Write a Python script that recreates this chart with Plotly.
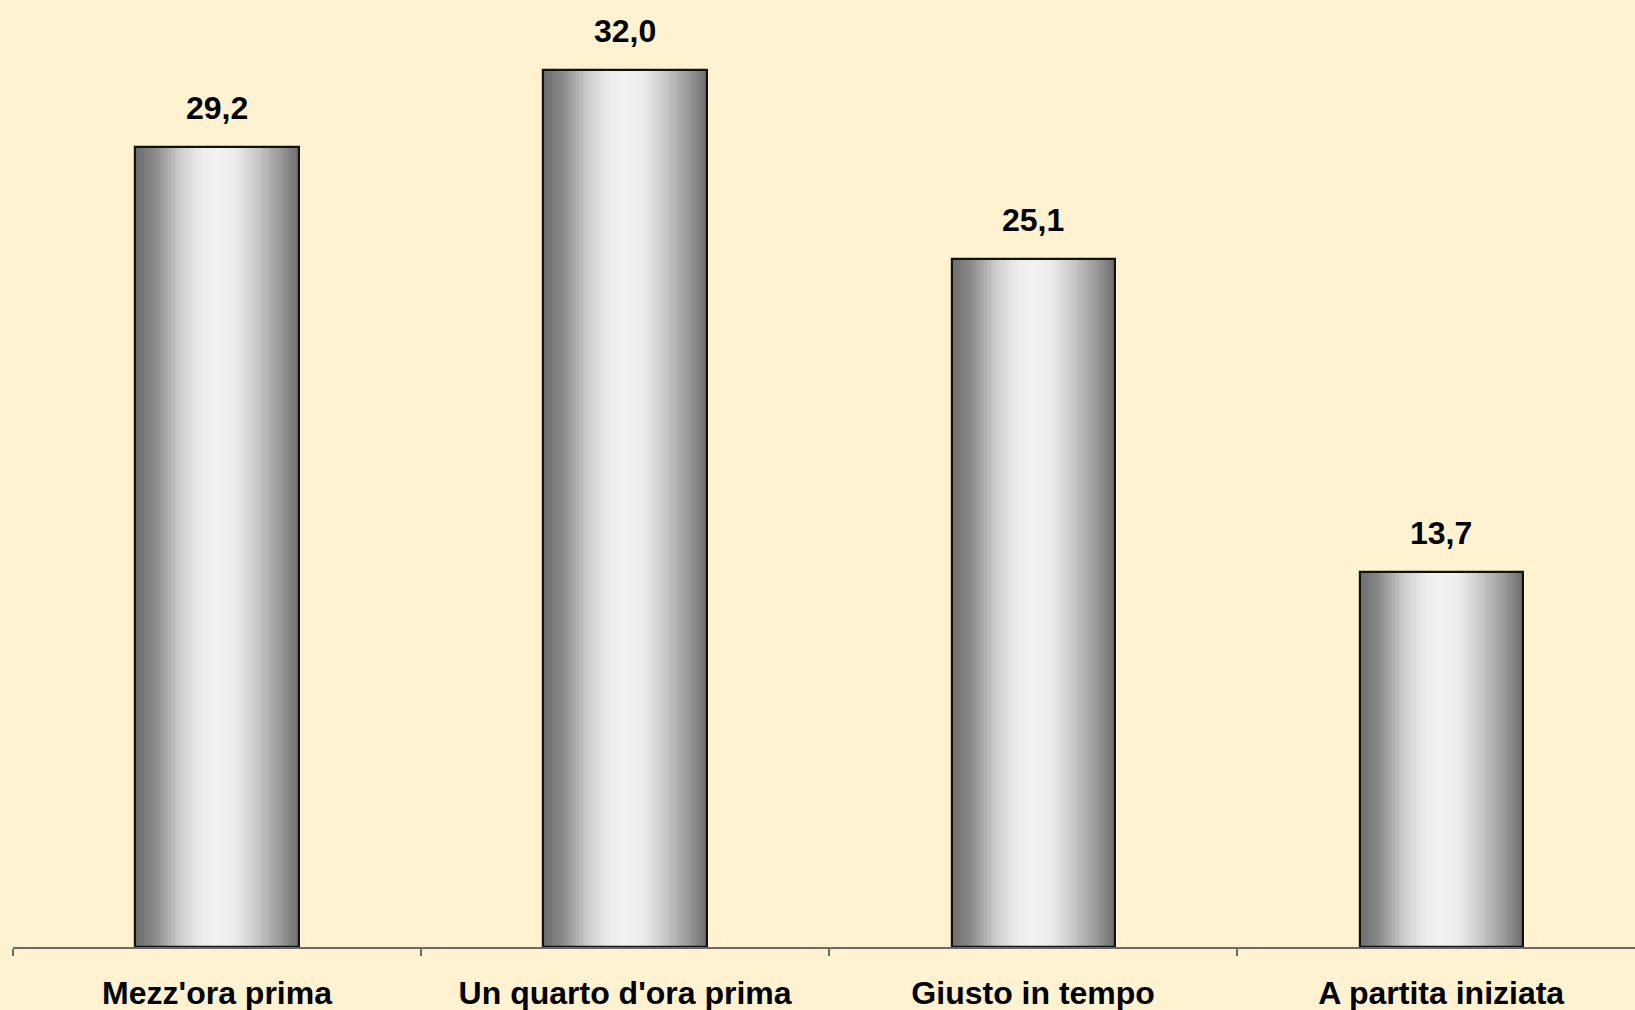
import plotly.graph_objects as go

categories = ["Mezz'ora prima", "Un quarto d'ora prima", "Giusto in tempo", "A partita iniziata"]
values = [29.2, 32.0, 25.1, 13.7]
value_labels = ["29,2", "32,0", "25,1", "13,7"]

BG = "#FFF2D1"
BAR_W = 0.40
N = 60
# gradient profile (position across bar -> gray level)
stops = [(0.0, 108), (0.12, 138), (0.28, 208), (0.40, 236), (0.5, 242), (0.6, 238), (0.72, 208), (0.87, 160), (1.0, 110)]

def gray_at(t):
    for (t0, g0), (t1, g1) in zip(stops[:-1], stops[1:]):
        if t0 <= t <= t1:
            g = g0 + (g1 - g0) * (t - t0) / (t1 - t0)
            g = int(round(g))
            return f"rgb({g},{g},{g})"
    return "rgb(110,110,110)"

fig = go.Figure()
sw = BAR_W / N
for i in range(N):
    t = (i + 0.5) / N
    fig.add_trace(go.Bar(
        x=categories, y=values,
        width=sw * 1.03, offset=-BAR_W / 2 + i * sw,
        marker=dict(color=gray_at(t), line=dict(width=0)),
        hoverinfo="skip", showlegend=False,
    ))
# outline
fig.add_trace(go.Bar(
    x=categories, y=values, width=BAR_W, offset=-BAR_W / 2,
    marker=dict(color="rgba(0,0,0,0)", line=dict(color="#111111", width=2.2)),
    showlegend=False,
))

for c, v, lab in zip(categories, values, value_labels):
    fig.add_annotation(x=c, y=v, text=lab, showarrow=False, yshift=39, yanchor="middle",
                       font=dict(family="Liberation Sans, Arial", size=32, color="#000000", weight="bold"))

fig.update_layout(
    width=1635, height=1010,
    paper_bgcolor=BG, plot_bgcolor=BG,
    margin=dict(l=13, r=0, t=0, b=63),
    barmode="overlay", bargap=0,
    xaxis=dict(range=[-0.5, 3.475], showgrid=False, zeroline=False,
               showline=True, linecolor="#6b6b6b", linewidth=1.5,
               ticks="outside", tickson="boundaries", ticklen=7, tickcolor="#6b6b6b", tickwidth=1.5,
               tickfont=dict(family="Liberation Sans, Arial", size=32, color="#000000", weight="bold"),
               ticklabelstandoff=17),
    yaxis=dict(range=[0, 34.555], visible=False, showgrid=False, zeroline=False),
)

fig.write_html("out.html", config={"displayModeBar": False},
               post_script="document.body.style.margin='0';document.body.style.overflow='hidden';document.body.style.background='" + BG + "';")
